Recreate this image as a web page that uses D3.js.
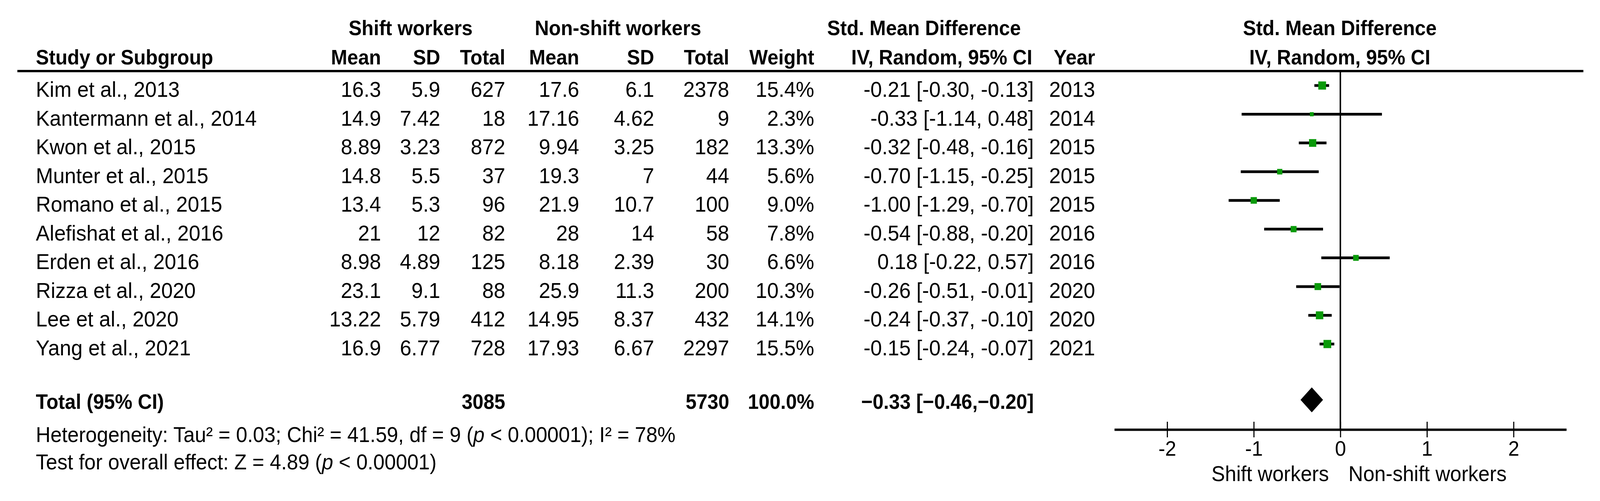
<!DOCTYPE html>
<html><head><meta charset="utf-8">
<script src="https://cdn.jsdelivr.net/npm/d3@7"></script>
<style>
html,body{margin:0;padding:0;background:#fff;width:100%;height:100%;overflow:hidden;}
svg{display:block;width:100vw;height:100vh;font-family:"Liberation Sans",Arial,Helvetica,sans-serif;}
</style>
</head><body>
<svg id="c" viewBox="0 0 4329 1283" preserveAspectRatio="none"></svg>
<script>
// ---- data ----
const studies = ["Kim et al., 2013","Kantermann et al., 2014","Kwon et al., 2015","Munter et al., 2015","Romano et al., 2015","Alefishat et al., 2016","Erden et al., 2016","Rizza et al., 2020","Lee et al., 2020","Yang et al., 2021"];
const shiftMean = [16.3, 14.9, 8.89, 14.8, 13.4, 21, 8.98, 23.1, 13.22, 16.9];
const shiftSD   = [5.9, 7.42, 3.23, 5.5, 5.3, 12, 4.89, 9.1, 5.79, 6.77];
const shiftN    = [627, 18, 872, 37, 96, 82, 125, 88, 412, 728];
const nonMean   = [17.6, 17.16, 9.94, 19.3, 21.9, 28, 8.18, 25.9, 14.95, 17.93];
const nonSD     = [6.1, 4.62, 3.25, 7, 10.7, 14, 2.39, 11.3, 8.37, 6.67];
const nonN      = [2378, 9, 182, 44, 100, 58, 30, 200, 432, 2297];
const weights   = [15.4, 2.3, 13.3, 5.6, 9.0, 7.8, 6.6, 10.3, 14.1, 15.5];
const smd       = [-0.21, -0.33, -0.32, -0.70, -1.00, -0.54, 0.18, -0.26, -0.24, -0.15];
const ciLow     = [-0.30, -1.14, -0.48, -1.15, -1.29, -0.88, -0.22, -0.51, -0.37, -0.24];
const ciHigh    = [-0.13, 0.48, -0.16, -0.25, -0.70, -0.20, 0.57, -0.01, -0.10, -0.07];
const years     = [2013, 2014, 2015, 2015, 2015, 2016, 2016, 2020, 2020, 2021];
const totalShiftN = 3085;
const totalNonN = 5730;
const totalWeight = 100.0;
const totalSMD = [-0.33, -0.46, -0.20]; // estimate, low, high
const axisTicks = [-2, -1, 0, 1, 2];
const heteroText = ["Heterogeneity: Tau\u00B2 = 0.03; Chi\u00B2 = 41.59, df = 9 (", "p", " < 0.00001); I\u00B2 = 78%"];
const overallText = ["Test for overall effect: Z = 4.89 (", "p", " < 0.00001)"];
const leftLabel = "Shift workers";
const rightLabel = "Non-shift workers";

// ---- drawing ----
const W = 4329, H = 1283;
const svg = d3.select("#c");
svg.append("rect").attr("width", W).attr("height", H).attr("fill", "#fff");

const BODY = 56, HEAD = 53;
function txt(x, yy, s, anchor = "start", bold = false, size = BODY) {
  return svg.append("text").attr("x", x).attr("y", yy)
    .attr("text-anchor", anchor)
    .attr("font-size", size)
    .attr("font-weight", bold ? "bold" : "normal")
    .attr("fill", "#000").text(s);
}

const y = d3.scaleLinear().domain([0, studies.length - 1]).range([248, 910]);
const x = d3.scaleLinear().domain([-2.61, 2.61]).range([3015, 4238]);
const sz = d3.scaleSqrt().domain([0, d3.max(weights)]).range([4, 21]);

const nameX = 97;
const col = {sMean:1031, sSD:1191, sN:1367, nMean:1567, nSD:1770, nN:1973, wt:2203, ci:2797, yr:2963};

// headers
const h1 = 90, h2 = 165;
txt(1111, h1, "Shift workers", "middle", true, HEAD);
txt(1672, h1, "Non-shift workers", "middle", true, HEAD);
txt(2500, h1, "Std. Mean Difference", "middle", true, HEAD);
txt(3625, h1, "Std. Mean Difference", "middle", true, HEAD);
txt(nameX, h2, "Study or Subgroup", "start", true, HEAD);
txt(col.sMean, h2, "Mean", "end", true, HEAD);
txt(col.sSD, h2, "SD", "end", true, HEAD);
txt(col.sN, h2, "Total", "end", true, HEAD);
txt(col.nMean, h2, "Mean", "end", true, HEAD);
txt(col.nSD, h2, "SD", "end", true, HEAD);
txt(col.nN, h2, "Total", "end", true, HEAD);
txt(col.wt, h2, "Weight", "end", true, HEAD);
txt(col.ci - 4, h2, "IV, Random, 95% CI", "end", true, HEAD);
txt(col.yr, h2, "Year", "end", true, HEAD);
txt(3625, h2, "IV, Random, 95% CI", "middle", true, HEAD);

// header rule
svg.append("line").attr("x1", 47).attr("x2", 4284).attr("y1", 182).attr("y2", 182)
  .attr("stroke", "#000").attr("stroke-width", 6);

// rows
const f2 = v => v.toFixed(2);
studies.forEach((s, i) => {
  const yy = y(i);
  txt(nameX, yy, s);
  txt(col.sMean, yy, String(shiftMean[i]), "end");
  txt(col.sSD, yy, String(shiftSD[i]), "end");
  txt(col.sN, yy, String(shiftN[i]), "end");
  txt(col.nMean, yy, String(nonMean[i]), "end");
  txt(col.nSD, yy, String(nonSD[i]), "end");
  txt(col.nN, yy, String(nonN[i]), "end");
  txt(col.wt, yy, weights[i].toFixed(1) + "%", "end");
  txt(col.ci, yy, `${f2(smd[i])} [${f2(ciLow[i])}, ${f2(ciHigh[i])}]`, "end");
  txt(col.yr, yy, String(years[i]), "end");
});

// zero line
const axisY = 1100;
svg.append("line").attr("x1", x(0)).attr("x2", x(0)).attr("y1", 182).attr("y2", axisY)
  .attr("stroke", "#000").attr("stroke-width", 4);

// CI lines & squares
const marks = svg.append("g");
marks.selectAll("line.ci").data(studies).join("line").attr("class", "ci")
  .attr("x1", (d, i) => x(ciLow[i])).attr("x2", (d, i) => x(ciHigh[i]))
  .attr("y1", (d, i) => y(i) - 29).attr("y2", (d, i) => y(i) - 29)
  .attr("stroke", "#000").attr("stroke-width", 7);
marks.selectAll("rect.sq").data(studies).join("rect").attr("class", "sq")
  .attr("x", (d, i) => x(smd[i]) - sz(weights[i]) / 2)
  .attr("y", (d, i) => y(i) - 29 - sz(weights[i]) / 2)
  .attr("width", (d, i) => sz(weights[i]))
  .attr("height", (d, i) => sz(weights[i]))
  .attr("fill", "#0a9a0a");

// total row
const ty = 1047;
const fm = d3.format(".2f");
txt(nameX, ty, "Total (95% CI)", "start", true, HEAD);
txt(col.sN, ty, String(totalShiftN), "end", true, HEAD);
txt(col.nN, ty, String(totalNonN), "end", true, HEAD);
txt(col.wt, ty, totalWeight.toFixed(1) + "%", "end", true, HEAD);
txt(col.ci, ty, `${fm(totalSMD[0])} [${fm(totalSMD[1])},${fm(totalSMD[2])}]`, "end", true, HEAD);
const dy = ty - 23;
svg.append("path")
  .attr("d", `M${x(totalSMD[1])},${dy}L${x(totalSMD[0])},${dy - 32}L${x(totalSMD[2])},${dy}L${x(totalSMD[0])},${dy + 32}Z`)
  .attr("fill", "#000");

// footnotes
function rich(xx, yy, parts) {
  const t = svg.append("text").attr("x", xx).attr("y", yy).attr("font-size", 55).attr("fill", "#000");
  parts.forEach((p, i) => t.append("tspan").attr("font-style", i === 1 ? "italic" : "normal").text(p));
}
rich(nameX, 1132, heteroText);
rich(nameX, 1202, overallText);

// axis
const axis = d3.axisBottom(x).tickValues(axisTicks).tickSizeInner(20).tickSizeOuter(0)
  .tickFormat(d => d < 0 ? "-" + (-d) : String(d));
const ag = svg.append("g").attr("transform", `translate(0,${axisY})`).call(axis);
ag.select(".domain").attr("stroke", "#000").attr("stroke-width", 6);
ag.selectAll(".tick line").attr("y1", -20).attr("y2", 20).attr("stroke", "#000").attr("stroke-width", 3);
ag.selectAll(".tick text").attr("y", 67).attr("dy", 0).attr("font-size", 54)
  .attr("font-family", "Liberation Sans, Arial, sans-serif").attr("fill", "#000");

txt(x(0) - 31, 1232, leftLabel, "end", false, 55);
txt(x(0) + 22, 1232, rightLabel, "start", false, 55);
</script>
</body></html>
